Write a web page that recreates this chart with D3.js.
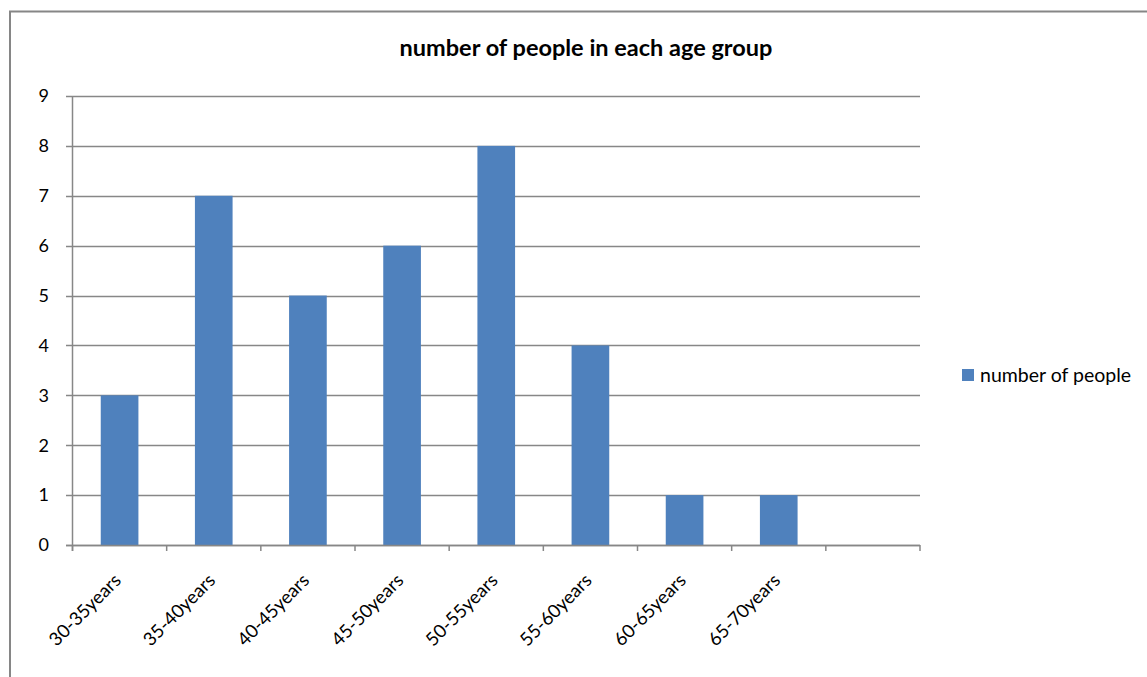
<!DOCTYPE html>
<html>
<head>
    <meta charset="UTF-8">
    <title>number of people in each age group</title>
    <script src="https://cdn.jsdelivr.net/npm/d3@7"></script>
    <style>
        body{margin:0;background:#fff;}
        text{font-family:Lato,"Open Sans",sans-serif;fill:#000;}
    </style>
</head>
<body>
<div id="chart"></div>
<script>
    var categories=['30-35years','35-40years','40-45years','45-50years','50-55years','55-60years','60-65years','65-70years',''];
    var values=[3,7,5,6,8,4,1,1,null];
    var yTicks=[0,1,2,3,4,5,6,7,8,9];
    var seriesName='number of people';
    var title='number of people in each age group';

    var W=1147,H=677;
    var pLeft=72.5,pRight=920,pTop=96,pBottom=545;

    var svg=d3.select('#chart').append('svg')
            .attr('width',W).attr('height',H);

    // outer frame
    svg.append('rect')
            .attr('x',10).attr('y',11.5)
            .attr('width',W+20).attr('height',H+20)
            .attr('fill','none').attr('stroke','#868686').attr('stroke-width',2);

    var x=d3.scaleBand().domain(d3.range(categories.length)).range([pLeft,pRight]).paddingInner(0).paddingOuter(0);
    var y=d3.scaleLinear().domain([0,9]).range([pBottom,pTop]);

    // grid
    svg.append('g').selectAll('line').data(yTicks).enter().append('line')
            .attr('x1',66).attr('x2',pRight)
            .attr('y1',function(d){return Math.round(y(d))+0.5})
            .attr('y2',function(d){return Math.round(y(d))+0.5})
            .attr('stroke','#878787').attr('stroke-width',1.5);

    svg.append('g').selectAll('text').data(yTicks).enter().append('text')
            .attr('x',49).attr('y',function(d){return y(d)})
            .attr('dy','0.35em').attr('text-anchor','end')
            .style('font-size','18px')
            .text(function(d){return d});

    // bars
    var bw=x.bandwidth()*0.4;
    svg.append('g').selectAll('rect').data(values).enter()
            .filter(function(d){return d!=null})
            .append('rect')
            .attr('x',function(d,i){return x(i)+(x.bandwidth()-bw)/2})
            .attr('y',function(d){return y(d)})
            .attr('width',bw)
            .attr('height',function(d){return y(0)-y(d)})
            .attr('fill','#4f81bd');

    // axes lines
    svg.append('line').attr('x1',pLeft).attr('x2',pLeft).attr('y1',pTop).attr('y2',551)
            .attr('stroke','#878787').attr('stroke-width',1.5);
    svg.append('line').attr('x1',66).attr('x2',pRight).attr('y1',pBottom+0.5).attr('y2',pBottom+0.5)
            .attr('stroke','#878787').attr('stroke-width',1.5);
    var xt=d3.range(categories.length+1).map(function(i){return pLeft+i*x.step()});
    svg.append('g').selectAll('line').data(xt).enter().append('line')
            .attr('x1',function(d){return d}).attr('x2',function(d){return d})
            .attr('y1',pBottom).attr('y2',551)
            .attr('stroke','#878787').attr('stroke-width',1.5);

    // category labels
    svg.append('g').selectAll('text').data(categories).enter().append('text')
            .attr('transform',function(d,i){
                var cx=x(i)+x.bandwidth()/2;
                return 'translate('+(cx-2)+',577) rotate(-45)';
            })
            .attr('text-anchor','end')
            .attr('dy','0.35em')
            .style('font-size','18.5px')
            .text(function(d){return d});

    // title
    svg.append('text').attr('x',586).attr('y',56)
            .attr('text-anchor','middle')
            .style('font-size','23.5px').style('font-weight','bold')
            .text(title);

    // legend
    svg.append('rect').attr('x',962).attr('y',369).attr('width',12).attr('height',12).attr('fill','#4f81bd');
    svg.append('text').attr('x',980).attr('y',375).attr('dy','0.35em')
            .style('font-size','19.5px')
            .text(seriesName);
</script>
</body>
</html>
